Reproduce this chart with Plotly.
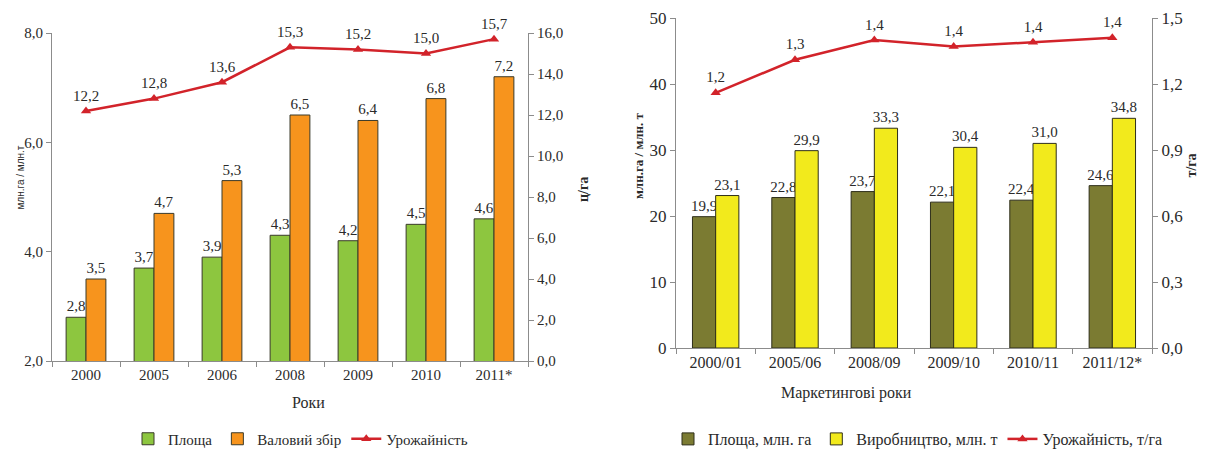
import plotly.graph_objects as go

W, H = 1209, 449

# ---- Left chart data ----
years_left = ["2000", "2005", "2006", "2008", "2009", "2010", "2011*"]
area_left = [2.8, 3.7, 3.9, 4.3, 4.2, 4.5, 4.6]
harvest_left = [3.5, 4.7, 5.3, 6.5, 6.4, 6.8, 7.2]
yield_left = [12.2, 12.8, 13.6, 15.3, 15.2, 15.0, 15.7]

# ---- Right chart data ----
years_right = ["2000/01", "2005/06", "2008/09", "2009/10", "2010/11", "2011/12*"]
area_right = [19.9, 22.8, 23.7, 22.1, 22.4, 24.6]
prod_right = [23.1, 29.9, 33.3, 30.4, 31.0, 34.8]
yield_right = [1.16, 1.31, 1.40, 1.37, 1.39, 1.41]

SERIF = "'Liberation Serif', 'Times New Roman', 'DejaVu Serif', serif"
SANS_N = "'Liberation Sans Narrow', 'Arial Narrow', 'Liberation Sans', sans-serif"
TXT = "#2a2a2a"
AX = "#8c8c8c"
RED = "#d2232a"


def px_x(x):
    return x / W


def px_y(y):
    return 1 - y / H


def fmt(vals):
    return [f"{v:.1f}".replace(".", ",") for v in vals]


fig = go.Figure()

# Left chart
fig.add_trace(go.Bar(x=years_left, y=area_left, name="Площа", xaxis="x", yaxis="y",
                     marker=dict(color="#8dc63f", line=dict(color="#3a3a2a", width=1)),
                     text=fmt(area_left), textposition="outside",
                     constraintext="none", cliponaxis=False,
                     outsidetextfont=dict(family=SERIF, size=15, color=TXT), legend="legend"))
fig.add_trace(go.Bar(x=years_left, y=harvest_left, name="Валовий збір", xaxis="x", yaxis="y",
                     marker=dict(color="#f7941d", line=dict(color="#3a3a2a", width=1)),
                     text=fmt(harvest_left), textposition="outside",
                     constraintext="none", cliponaxis=False,
                     outsidetextfont=dict(family=SERIF, size=15, color=TXT), legend="legend"))
fig.add_trace(go.Scatter(x=years_left, y=yield_left, name="Урожайність", xaxis="x", yaxis="y2",
                         mode="lines+markers+text",
                         line=dict(color=RED, width=2.5),
                         marker=dict(symbol="triangle-up", size=9, color=RED),
                         text=fmt(yield_left), textposition="top center",
                         textfont=dict(family=SERIF, size=15, color=TXT), cliponaxis=False,
                         legend="legend"))

# Right chart
fig.add_trace(go.Bar(x=years_right, y=area_right, name="Площа, млн. га", xaxis="x2", yaxis="y3",
                     marker=dict(color="#7b7b32", line=dict(color="#2e2e1a", width=1)),
                     text=fmt(area_right), textposition="outside",
                     constraintext="none", cliponaxis=False,
                     outsidetextfont=dict(family=SERIF, size=15, color=TXT), legend="legend2"))
fig.add_trace(go.Bar(x=years_right, y=prod_right, name="Виробництво, млн. т", xaxis="x2", yaxis="y3",
                     marker=dict(color="#f2ea1c", line=dict(color="#2e2e1a", width=1)),
                     text=fmt(prod_right), textposition="outside",
                     constraintext="none", cliponaxis=False,
                     outsidetextfont=dict(family=SERIF, size=15, color=TXT), legend="legend2"))
fig.add_trace(go.Scatter(x=years_right, y=yield_right, name="Урожайність, т/га", xaxis="x2", yaxis="y4",
                         mode="lines+markers+text",
                         line=dict(color=RED, width=2.5),
                         marker=dict(symbol="triangle-up", size=9, color=RED),
                         text=fmt(yield_right), textposition="top center",
                         textfont=dict(family=SERIF, size=15, color=TXT), cliponaxis=False,
                         legend="legend2"))

axis_common = dict(showline=True, linecolor=AX, linewidth=1, ticks="outside", ticklen=5,
                   tickcolor=AX, showgrid=False, zeroline=False, automargin=False)

fig.update_layout(
    width=W, height=H, autosize=False,
    margin=dict(l=0, r=0, t=0, b=0, autoexpand=False),
    paper_bgcolor="white", plot_bgcolor="white",
    separators=", ",
    barmode="group", bargap=0.415, bargroupgap=0,
    font=dict(family=SERIF, size=14, color=TXT),
    xaxis=dict(domain=[px_x(52), px_x(528)], anchor="y", type="category", tickson="boundaries",
               tickfont=dict(family=SERIF, size=15), **axis_common),
    yaxis=dict(domain=[px_y(361), px_y(33)], anchor="x", range=[2, 8], dtick=2, tick0=0,
               tickformat=".1f", tickfont=dict(family=SERIF, size=15), **axis_common),
    yaxis2=dict(overlaying="y", anchor="x", side="right", range=[0, 16], dtick=2, tick0=0,
                tickformat=".1f", tickfont=dict(family=SERIF, size=15), **axis_common),
    xaxis2=dict(domain=[px_x(676), px_x(1152)], anchor="y3", type="category", tickson="boundaries",
                tickfont=dict(family=SERIF, size=16), **axis_common),
    yaxis3=dict(domain=[px_y(348), px_y(18)], anchor="x2", range=[0, 50], dtick=10, tick0=0,
                tickfont=dict(family=SERIF, size=17), **axis_common),
    yaxis4=dict(overlaying="y3", anchor="x2", side="right", range=[0, 1.5], dtick=0.3, tick0=0,
                tickformat=".1f", tickfont=dict(family=SERIF, size=17), **axis_common),
    legend=dict(orientation="h", x=px_x(128), xanchor="left", y=px_y(439), yanchor="middle",
                font=dict(family=SERIF, size=15, color=TXT), itemwidth=30, bgcolor="rgba(0,0,0,0)",
                traceorder="normal"),
    legend2=dict(orientation="h", x=px_x(668), xanchor="left", y=px_y(439), yanchor="middle",
                 font=dict(family=SERIF, size=16, color=TXT), itemwidth=30, bgcolor="rgba(0,0,0,0)",
                 traceorder="normal"),
    annotations=[
        dict(text="млн.га / млн.т", x=px_x(12), y=px_y(178), xref="paper", yref="paper",
             textangle=-90, showarrow=False, font=dict(family=SANS_N, size=10, color=TXT)),
        dict(text="<b>ц/га</b>", x=px_x(583), y=px_y(190), xref="paper", yref="paper",
             textangle=-90, showarrow=False, font=dict(family=SERIF, size=14, color=TXT)),
        dict(text="Роки", x=px_x(290), y=px_y(413), xref="paper", yref="paper",
             showarrow=False, font=dict(family=SERIF, size=16, color=TXT)),
        dict(text="<b>млн.га / млн. т</b>", x=px_x(638), y=px_y(156), xref="paper", yref="paper",
             textangle=-90, showarrow=False, font=dict(family=SERIF, size=13, color=TXT)),
        dict(text="<b>т/га</b>", x=px_x(1200), y=px_y(166), xref="paper", yref="paper",
             textangle=-90, showarrow=False, font=dict(family=SERIF, size=14, color=TXT)),
        dict(text="Маркетингові роки", x=px_x(914), y=px_y(404), xref="paper", yref="paper",
             showarrow=False, font=dict(family=SERIF, size=16, color=TXT)),
    ],
)

fig.write_html("out.html")
